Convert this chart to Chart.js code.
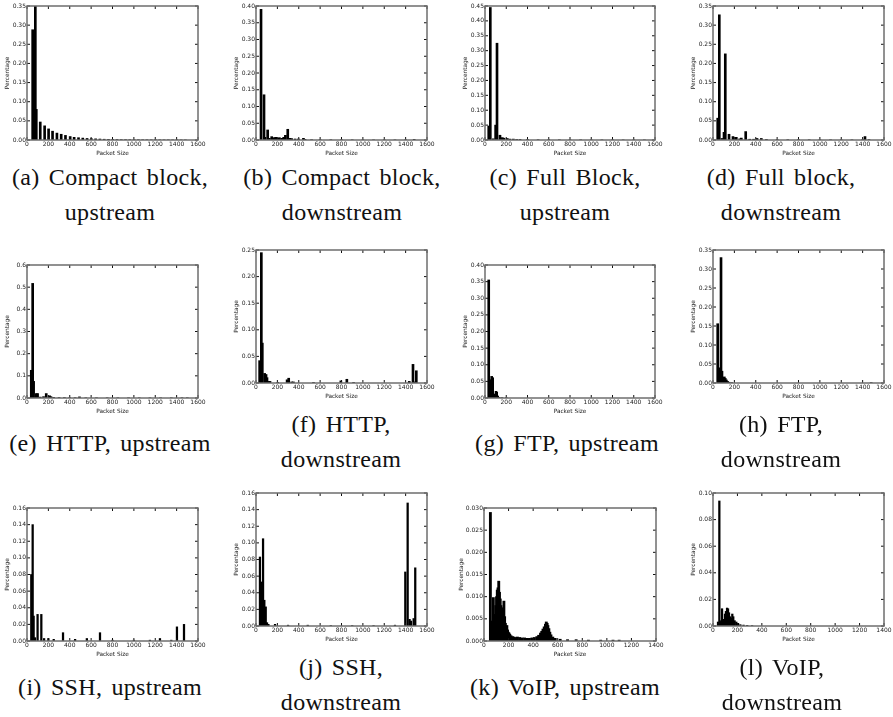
<!DOCTYPE html>
<html>
<head>
<meta charset="utf-8">
<script src="https://cdn.jsdelivr.net/npm/chart.js@4.4.1/dist/chart.umd.min.js"></script>
<style>
  body { margin: 0; background: #fff; }
  #fig { position: relative; width: 893px; height: 717px; overflow: hidden; background: #fff; }
  canvas { position: absolute; }
  .cap { position: absolute; width: 260px; text-align: center; font-family: "Liberation Serif", serif;
         font-size: 24px; letter-spacing: 0.3px; word-spacing: 3px; line-height: 35px; color: #111; white-space: nowrap; }
</style>
</head>
<body>
<div id="fig"></div>
<script>
// packet size (bytes) and share of packets, one pair per panel
const sizesA = [53, 62, 78, 87, 124, 165, 202, 239, 280, 320, 360, 404, 441, 482, 522, 562, 602, 642, 682, 722, 762, 802, 842, 882, 922, 962, 1002, 1042, 1082, 1122, 1162, 1202, 1242, 1282, 1322, 1362, 1402, 1442, 1482];
const pctA = [0.288, 0.013, 0.35, 0.08, 0.047, 0.037, 0.029, 0.023, 0.018, 0.015, 0.012, 0.009, 0.007, 0.006, 0.005, 0.004, 0.0035, 0.003, 0.0025, 0.002, 0.0018, 0.0015, 0.0012, 0.001, 0.001, 0.0008, 0.0008, 0.0007, 0.0006, 0.0006, 0.0005, 0.0005, 0.0004, 0.0004, 0.0004, 0.0003, 0.0003, 0.0003, 0.0003];

const sizesB = [47, 75, 84, 109, 125, 147, 166, 184, 203, 219, 241, 259, 275, 297, 319, 334, 366, 397, 444, 459, 520, 600, 700, 800, 900, 1000, 1100, 1200, 1300, 1400, 1480];
const pctB = [0.39, 0.135, 0.008, 0.03, 0.005, 0.01, 0.007, 0.008, 0.005, 0.007, 0.005, 0.008, 0.014, 0.032, 0.005, 0.004, 0.003, 0.003, 0.005, 0.002, 0.001, 0.001, 0.0008, 0.0008, 0.0006, 0.0006, 0.0005, 0.0005, 0.0005, 0.0005, 0.002];

const sizesC = [35, 50, 78, 100, 113, 141, 163, 179, 210, 235, 267, 298, 330, 400, 500, 600, 700, 800, 900, 1000, 1100, 1200, 1300, 1400, 1500];
const pctC = [0.047, 0.445, 0.004, 0.05, 0.325, 0.016, 0.008, 0.006, 0.005, 0.003, 0.003, 0.002, 0.002, 0.0015, 0.001, 0.001, 0.0008, 0.0007, 0.0006, 0.0005, 0.0005, 0.0005, 0.0004, 0.0004, 0.0004];

const sizesD = [44, 59, 84, 103, 115, 150, 187, 218, 250, 265, 306, 343, 380, 412, 452, 500, 600, 700, 800, 900, 1000, 1100, 1200, 1300, 1400, 1422, 1460];
const pctD = [0.057, 0.327, 0.004, 0.02, 0.225, 0.015, 0.009, 0.007, 0.003, 0.005, 0.022, 0.002, 0.002, 0.004, 0.004, 0.0015, 0.001, 0.0008, 0.0008, 0.0006, 0.0006, 0.0005, 0.0005, 0.0005, 0.001, 0.009, 0.001];

const sizesE = [40, 53, 62, 87, 99, 124, 155, 180, 211, 224, 249, 300, 350, 400, 450, 491, 550, 650, 750, 850, 950, 1050, 1150, 1250, 1350, 1450, 1500];
const pctE = [0.125, 0.517, 0.075, 0.02, 0.02, 0.004, 0.006, 0.02, 0.01, 0.006, 0.003, 0.002, 0.002, 0.0015, 0.0015, 0.005, 0.001, 0.001, 0.001, 0.0008, 0.0008, 0.0008, 0.0008, 0.0008, 0.0008, 0.001, 0.001];

const sizesF = [34, 50, 59, 81, 94, 103, 116, 131, 203, 291, 306, 334, 350, 538, 794, 850, 913, 1434, 1469, 1484, 1500];
const pctF = [0.042, 0.245, 0.075, 0.018, 0.016, 0.01, 0.003, 0.003, 0.001, 0.006, 0.009, 0.002, 0.002, 0.001, 0.004, 0.007, 0.001, 0.003, 0.035, 0.002, 0.023];

const sizesG = [35, 53, 63, 72, 82, 94, 104, 110, 119, 132, 160, 200];
const pctG = [0.355, 0.055, 0.065, 0.061, 0.012, 0.008, 0.02, 0.017, 0.006, 0.002, 0.001, 0.0008];

const sizesH = [44, 56, 65, 75, 84, 94, 106, 115, 125, 137, 150, 175, 1480];
const pctH = [0.156, 0.04, 0.035, 0.33, 0.031, 0.01, 0.016, 0.012, 0.008, 0.004, 0.002, 0.001, 0.001];

const sizesI = [40, 53, 62, 75, 99, 134, 160, 200, 250, 337, 450, 560, 683, 800, 1000, 1150, 1244, 1350, 1403, 1469];
const pctI = [0.08, 0.14, 0.03, 0.004, 0.032, 0.032, 0.003, 0.003, 0.002, 0.01, 0.002, 0.003, 0.01, 0.001, 0.001, 0.001, 0.003, 0.001, 0.017, 0.02];

const sizesJ = [37, 50, 66, 78, 91, 103, 116, 178, 300, 484, 700, 900, 1100, 1300, 1397, 1419, 1437, 1450, 1475, 1490];
const pctJ = [0.083, 0.053, 0.105, 0.031, 0.023, 0.004, 0.002, 0.002, 0.001, 0.001, 0.0005, 0.0005, 0.0005, 0.001, 0.065, 0.148, 0.008, 0.006, 0.009, 0.07];

const sizesK = [52, 65, 76, 84, 90, 96, 102, 108, 114, 120, 126, 132, 138, 144, 150, 156, 162, 168, 174, 180, 186, 192, 198, 204, 210, 220, 232, 244, 258, 272, 290, 310, 330, 350, 370, 390, 410, 430, 445, 460, 470, 480, 490, 500, 507, 514, 520, 528, 536, 545, 560, 580, 620, 680, 750, 850, 950, 1050, 1100];
const pctK = [0.029, 0.0045, 0.0098, 0.004, 0.006, 0.008, 0.01, 0.0115, 0.012, 0.0135, 0.011, 0.0095, 0.008, 0.0065, 0.0075, 0.006, 0.009, 0.0055, 0.004, 0.003, 0.0035, 0.0025, 0.002, 0.0018, 0.0015, 0.0012, 0.001, 0.0009, 0.0008, 0.0009, 0.0008, 0.0007, 0.0007, 0.0006, 0.0006, 0.0007, 0.0008, 0.001, 0.0013, 0.0018, 0.0022, 0.0027, 0.0032, 0.0038, 0.0043, 0.004, 0.0035, 0.0028, 0.002, 0.0014, 0.0009, 0.0006, 0.0004, 0.0003, 0.0003, 0.0002, 0.0002, 0.0002, 0.0002];

const sizesL = [41, 52, 60, 67, 74, 82, 90, 98, 106, 115, 123, 131, 139, 150, 158, 166, 177, 191, 205, 224, 250, 280, 320];
const pctL = [0.003, 0.094, 0.003, 0.004, 0.013, 0.004, 0.005, 0.009, 0.011, 0.0135, 0.013, 0.01, 0.007, 0.006, 0.009, 0.007, 0.004, 0.003, 0.002, 0.001, 0.0007, 0.0005, 0.0003];

// axis ranges and tick labels
const xMaxes = [1600, 1600, 1600, 1600, 1600, 1600, 1600, 1600, 1600, 1600, 1400, 1400];
const yMaxes = [0.35, 0.40, 0.45, 0.35, 0.6, 0.25, 0.40, 0.35, 0.16, 0.16, 0.030, 0.10];
const ySteps = [0.05, 0.05, 0.05, 0.05, 0.1, 0.05, 0.05, 0.05, 0.02, 0.02, 0.005, 0.02];
const yDecimals = [2, 2, 2, 2, 1, 2, 2, 2, 2, 2, 3, 2];

const captions = [
  ["(a) Compact block,", "upstream"], ["(b) Compact block,", "downstream"],
  ["(c) Full Block,", "upstream"], ["(d) Full block,", "downstream"],
  ["(e) HTTP, upstream"], ["(f) HTTP,", "downstream"],
  ["(g) FTP, upstream"], ["(h) FTP,", "downstream"],
  ["(i) SSH, upstream"], ["(j) SSH,", "downstream"],
  ["(k) VoIP, upstream"], ["(l) VoIP,", "downstream"]
];

const allSizes = [sizesA, sizesB, sizesC, sizesD, sizesE, sizesF, sizesG, sizesH, sizesI, sizesJ, sizesK, sizesL];
const allPct = [pctA, pctB, pctC, pctD, pctE, pctF, pctG, pctH, pctI, pctJ, pctK, pctL];

// layout: plot box [left, top, right, bottom], caption [centre x, first line y], bar width, y-axis band width
const boxes = [[27,6,198,140],[256,6,427,140],[485,6,655,140],[713,6,884,140],
               [27,265,198,398],[256,250,427,383],[485,265,655,398],[713,250,884,383],
               [27,508,198,641],[256,493,427,626],[484,508,656,641],[713,493,884,626]];
const capPos = [[110,178],[342,178],[565,178],[781,178],[110,444],[341,425],[567,444],[781,425],
                [110,688],[341,668],[565,688],[782,668]];
const barW = [2, 2, 2, 2, 2, 2, 2, 2, 1.6, 1.6, 2.2, 1.6];
const yBand = [23, 23, 23, 23, 23, 23, 23, 23, 23, 23, 26, 23];

const tickFont = { family: 'DejaVu Sans', size: 6 };
const titleFont = { family: 'DejaVu Sans', size: 5.8 };
const X_H = 17, PAD_T = 6, PAD_R = 10;

// frame with inward ticks on all four sides (matplotlib classic look)
const frame = {
  id: 'frame',
  afterDatasetsDraw(chart) {
    const { ctx, chartArea: a, scales: { x, y } } = chart;
    ctx.save();
    ctx.strokeStyle = '#111';
    ctx.lineWidth = 1;
    ctx.beginPath();
    x.ticks.forEach(t => {
      const px = x.getPixelForValue(t.value);
      ctx.moveTo(px, a.bottom); ctx.lineTo(px, a.bottom - 3);
      ctx.moveTo(px, a.top); ctx.lineTo(px, a.top + 3);
    });
    y.ticks.forEach(t => {
      const py = y.getPixelForValue(t.value);
      ctx.moveTo(a.left, py); ctx.lineTo(a.left + 3, py);
      ctx.moveTo(a.right, py); ctx.lineTo(a.right - 3, py);
    });
    ctx.stroke();
    ctx.strokeStyle = '#6e6e6e';
    ctx.lineWidth = 1.5;
    ctx.strokeRect(a.left, a.top, a.right - a.left, a.bottom - a.top);
    ctx.restore();
  }
};

const fig = document.getElementById('fig');

allSizes.forEach((sizes, i) => {
  const [L, T, R, B] = boxes[i];
  const yw = yBand[i];
  const cv = document.createElement('canvas');
  cv.width = R - L + yw + PAD_R;
  cv.height = B - T + PAD_T + X_H;
  cv.style.left = (L - yw) + 'px';
  cv.style.top = (T - PAD_T) + 'px';
  fig.appendChild(cv);

  const pts = sizes.map((s, k) => ({ x: s, y: allPct[i][k] }));
  const dec = yDecimals[i];

  new Chart(cv, {
    type: 'bar',
    data: {
      datasets: [{
        data: pts,
        backgroundColor: '#000',
        barThickness: barW[i]
      }]
    },
    options: {
      responsive: false,
      animation: false,
      layout: { padding: { top: PAD_T, right: PAD_R, left: 0, bottom: 0 } },
      plugins: { legend: { display: false }, tooltip: { enabled: false } },
      scales: {
        x: {
          type: 'linear',
          min: 0,
          max: xMaxes[i],
          offset: false,
          grid: { display: false, drawTicks: false },
          border: { display: false },
          ticks: { stepSize: 200, padding: 1, maxRotation: 0, autoSkip: false, font: tickFont, color: '#222',
                   callback: v => String(v) },
          title: { display: true, text: 'Packet Size', font: titleFont, color: '#222', padding: 0 },
          afterFit: s => { s.height = X_H; }
        },
        y: {
          min: 0,
          max: yMaxes[i],
          grid: { display: false, drawTicks: false },
          border: { display: false },
          ticks: { stepSize: ySteps[i], padding: 1, font: tickFont, color: '#222',
                   callback: v => Number(v).toFixed(dec) },
          title: { display: true, text: 'Percentage', font: titleFont, color: '#222', padding: 0 },
          afterFit: s => { s.width = yw; }
        }
      }
    },
    plugins: [frame]
  });

  const cap = document.createElement('div');
  cap.className = 'cap';
  cap.style.left = (capPos[i][0] - 130) + 'px';
  cap.style.top = (capPos[i][1] - 18) + 'px';
  cap.innerHTML = captions[i].join('<br>');
  fig.appendChild(cap);
});
</script>
</body>
</html>
